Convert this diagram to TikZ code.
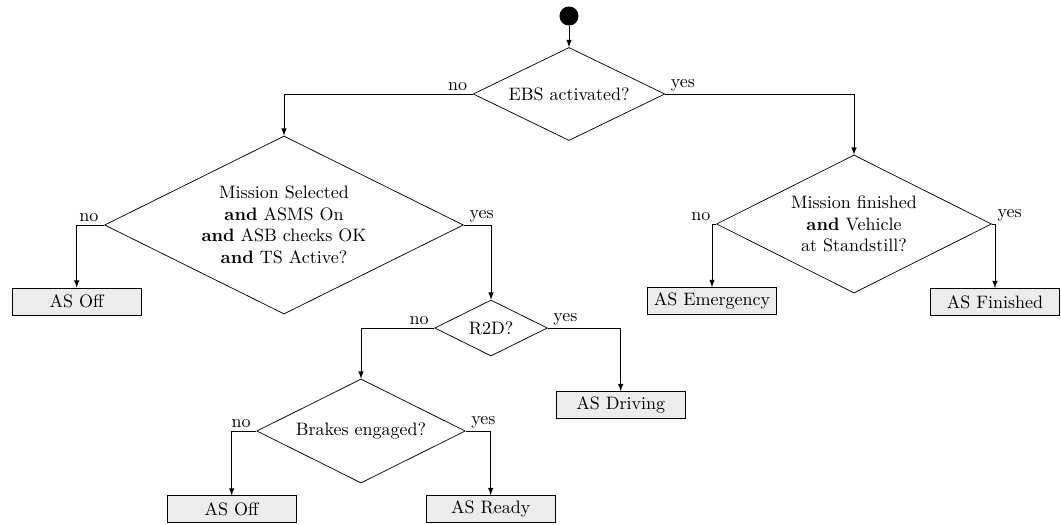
\documentclass[tikz,border=0pt]{standalone}
\usetikzlibrary{shapes.geometric}

\begin{document}
\begin{tikzpicture}[x=0.5556pt,y=-0.5556pt,>=latex,
    decision/.style={draw,shape=diamond,aspect=2,inner sep=1pt,align=center},
    state/.style={draw,fill=gray!15,minimum width=72pt,minimum height=15pt,inner sep=2pt},
    lbl/.style={inner xsep=3pt,inner ysep=1.5pt}]
  \useasboundingbox (0,0) rectangle (1061,524);
  %\draw[red] (0,0) rectangle (1061,524);
  \node[circle,fill=black,inner sep=0pt,minimum size=10.6pt] (start) at (569,16) {};
  \node[decision,minimum width=106.5pt,minimum height=51.7pt] (ebs) at (569,94) {EBS activated?};
  \node[decision,minimum width=199.4pt,minimum height=98.9pt] (sel) at (284,225) {Mission Selected\\\textbf{and} ASMS On\\\textbf{and} ASB checks OK\\\textbf{and} TS Active?};
  \node[decision,minimum width=152.8pt,minimum height=76.7pt] (fin) at (854,224) {Mission finished\\\textbf{and} Vehicle\\at Standstill?};
  \node[decision,minimum width=62.6pt,minimum height=31.1pt] (r2d) at (491,328) {R2D?};
  \node[decision,minimum width=115.9pt,minimum height=57.8pt] (brakes) at (361,431) {Brakes engaged?};
  \node[state] (off1) at (76.7,301.5) {AS Off};
  \node[state] (emergency) at (712,301) {AS Emergency};
  \node[state] (finished) at (995,302) {AS Finished};
  \node[state] (driving) at (620.7,405) {AS Driving};
  \node[state] (off2) at (231.7,509.3) {AS Off};
  \node[state] (ready) at (490.7,509) {AS Ready};

  \draw[->] (start) -- (ebs.north);
  \draw[->] (ebs.west) node[above left,lbl] {no} -| (sel.north);
  \draw[->] (ebs.east) node[above right,lbl] {yes} -| (fin.north);
  \draw[->] (sel.west) node[above left,lbl] {no} -| (off1.north);
  \draw[->] (sel.east) node[above right,lbl] {yes} -| (r2d.north);
  \draw[->] (fin.west) node[above left,lbl] {no} -| (emergency.north);
  \draw[->] (fin.east) node[above right,lbl] {yes} -| (finished.north);
  \draw[->] (r2d.west) node[above left,lbl] {no} -| (brakes.north);
  \draw[->] (r2d.east) node[above right,lbl] {yes} -| (driving.north);
  \draw[->] (brakes.west) node[above left,lbl] {no} -| (off2.north);
  \draw[->] (brakes.east) node[above right,lbl] {yes} -| (ready.north);
\end{tikzpicture}
\end{document}
